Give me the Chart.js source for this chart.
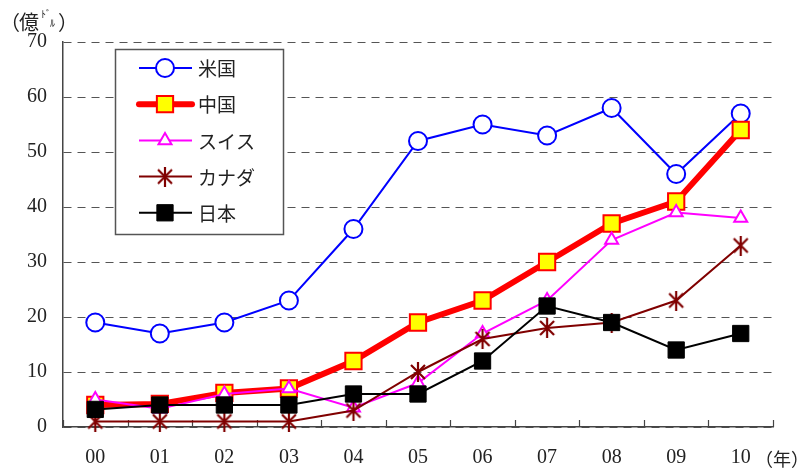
<!DOCTYPE html>
<html>
<head>
<meta charset="utf-8">
<script src="https://cdn.jsdelivr.net/npm/chart.js@4/dist/chart.umd.min.js"></script>
<style>
  body { margin: 0; background: #fff; }
</style>
</head>
<body>
<canvas id="myChart" width="802" height="473"></canvas>
<script>
// 対外直接投資の推移（億ドル）
const years = ['00', '01', '02', '03', '04', '05', '06', '07', '08', '09', '10'];
const yTicks = [0, 10, 20, 30, 40, 50, 60, 70];

const usa    = [19, 17, 19, 23, 36, 52, 55, 53, 58, 46, 57];
const china  = [4, 4.2, 6.2, 7, 12, 19, 23, 30, 37, 41, 54];
const swiss  = [5, 3.3, 6, 7, 3.5, 8, 17, 23, 34, 39, 38];
const canada = [1, 1, 1, 1, 3, 10, 16, 18, 19, 23, 33];
const japan  = [3.2, 4, 4, 4, 6, 6, 12, 22, 19, 14, 17];

const JP_FONT = '"Noto Sans CJK JP", sans-serif';
const NUM_FONT = '"Liberation Serif", "DejaVu Serif", serif';

// カナダ用のマーカー（×に縦線）
const asterisk = document.createElement('canvas');
asterisk.width = 18;
asterisk.height = 20;
(function () {
    const c = asterisk.getContext('2d');
    c.strokeStyle = '#800000';
    c.lineWidth = 2.2;
    c.beginPath();
    c.moveTo(2, 3); c.lineTo(16, 17);
    c.moveTo(16, 3); c.lineTo(2, 17);
    c.moveTo(9, 0); c.lineTo(9, 20);
    c.stroke();
})();

const series = [
    {label: '米国',   data: usa,    color: '#0000ff', width: 2, style: 'circle',   r: 9,    fill: '#ffffff', bw: 2, order: 5},
    {label: '中国',   data: china,  color: '#ff0000', width: 6, style: 'rect',     r: 11.5, fill: '#ffff00', bw: 2, order: 4},
    {label: 'スイス', data: swiss,  color: '#ff00ff', width: 2, style: 'triangle', r: 7.5,  fill: '#ffffff', bw: 2, order: 3},
    {label: 'カナダ', data: canada, color: '#800000', width: 2, style: asterisk,   r: 9,    fill: '#800000', bw: 1, order: 2},
    {label: '日本',   data: japan,  color: '#000000', width: 2, style: 'rect',     r: 11.5, fill: '#000000', bw: 1, order: 1}
];

function drawMarker(ctx, s, x, y) {
    ctx.save();
    ctx.lineWidth = s.bw;
    ctx.strokeStyle = s.color;
    ctx.fillStyle = s.fill;
    if (s.style === 'circle') {
        ctx.beginPath();
        ctx.arc(x, y, s.r, 0, Math.PI * 2);
        ctx.fill(); ctx.stroke();
    } else if (s.style === 'rect') {
        const h = s.r * Math.SQRT1_2;
        ctx.beginPath();
        ctx.rect(x - h, y - h, h * 2, h * 2);
        ctx.fill(); ctx.stroke();
    } else if (s.style === 'triangle') {
        ctx.beginPath();
        ctx.moveTo(x, y - s.r);
        ctx.lineTo(x + s.r * 0.866, y + s.r / 2);
        ctx.lineTo(x - s.r * 0.866, y + s.r / 2);
        ctx.closePath();
        ctx.fill(); ctx.stroke();
    } else {
        ctx.drawImage(s.style, x - s.style.width / 2, y - s.style.height / 2);
    }
    ctx.restore();
}

// 凡例・単位・x軸の内向き目盛り
const extras = {
    id: 'extras',
    beforeDatasetsDraw(chart) {
        const {ctx, chartArea, scales: {x}} = chart;
        const step = (x.right - x.left) / years.length;
        ctx.save();
        ctx.strokeStyle = '#444';
        ctx.lineWidth = 1.2;
        ctx.beginPath();
        for (let i = 0; i <= years.length; i++) {
            const px = Math.round(x.left + i * step) + 0.5;
            ctx.moveTo(px, chartArea.bottom);
            ctx.lineTo(px, chartArea.bottom - 7);
        }
        ctx.stroke();
        ctx.restore();
    },
    afterDraw(chart) {
        const ctx = chart.ctx;
        ctx.save();

        // 凡例
        ctx.fillStyle = '#ffffff';
        ctx.fillRect(115.5, 49.5, 168, 185);
        ctx.strokeStyle = '#555';
        ctx.lineWidth = 1.5;
        ctx.strokeRect(115.5, 49.5, 168, 185);
        ctx.font = '19px ' + JP_FONT;
        ctx.textBaseline = 'middle';
        series.forEach((s, i) => {
            const y = 68 + i * 36.2;
            ctx.strokeStyle = s.color;
            ctx.lineWidth = s.width;
            ctx.lineCap = s.width > 3 ? 'round' : 'butt';
            ctx.beginPath();
            ctx.moveTo(139, y);
            ctx.lineTo(192, y);
            ctx.stroke();
            drawMarker(ctx, s, 165, y);
            ctx.fillStyle = '#222';
            ctx.fillText(s.label, 198, y + 1);
        });

        // 単位
        ctx.fillStyle = '#222';
        ctx.font = '20px ' + JP_FONT;
        ctx.fillText('（', 0, 22);
        ctx.fillText('億', 19, 22);
        ctx.font = '10px ' + JP_FONT;
        ctx.fillText('ﾄﾞ', 41, 14);
        ctx.fillText('ﾙ', 50, 23);
        ctx.font = '20px ' + JP_FONT;
        ctx.fillText('）', 58, 22);

        ctx.font = '18px ' + JP_FONT;
        ctx.fillText('（年）', 755, 459);
        ctx.restore();
    }
};

const ctx = document.getElementById('myChart').getContext('2d');
const myChart = new Chart(ctx, {
    type: 'line',
    data: {
        labels: years,
        datasets: series.map(s => ({
            label: s.label,
            data: s.data,
            borderColor: s.color,
            borderWidth: s.width,
            backgroundColor: s.fill,
            pointStyle: s.style,
            pointRadius: s.r,
            pointBorderWidth: s.bw,
            pointBorderColor: s.color,
            pointBackgroundColor: s.fill,
            tension: 0,
            clip: false,
            order: s.order
        }))
    },
    options: {
        responsive: false,
        devicePixelRatio: 1,
        animation: false,
        events: [],
        layout: {
            padding: {top: 42, right: 29, left: 0, bottom: 0}
        },
        plugins: {
            legend: {display: false},
            tooltip: {enabled: false}
        },
        scales: {
            x: {
                offset: true,
                grid: {display: false, drawTicks: false},
                border: {display: true, color: '#444', width: 1.5},
                ticks: {
                    padding: 19,
                    color: '#222',
                    font: {family: NUM_FONT, size: 20}
                },
                afterFit(scale) { scale.height = 46; }
            },
            y: {
                min: 0,
                max: 70,
                afterBuildTicks(scale) { scale.ticks = yTicks.map(v => ({value: v})); },
                grid: {
                    color: '#555',
                    lineWidth: 1,
                    drawTicks: false
                },
                border: {display: true, color: '#444', width: 1.5, dash: [8, 6]},
                ticks: {
                    padding: 16,
                    color: '#222',
                    font: {family: NUM_FONT, size: 20}
                },
                afterFit(scale) { scale.width = 63; }
            }
        }
    },
    plugins: [extras]
});
</script>
</body>
</html>
